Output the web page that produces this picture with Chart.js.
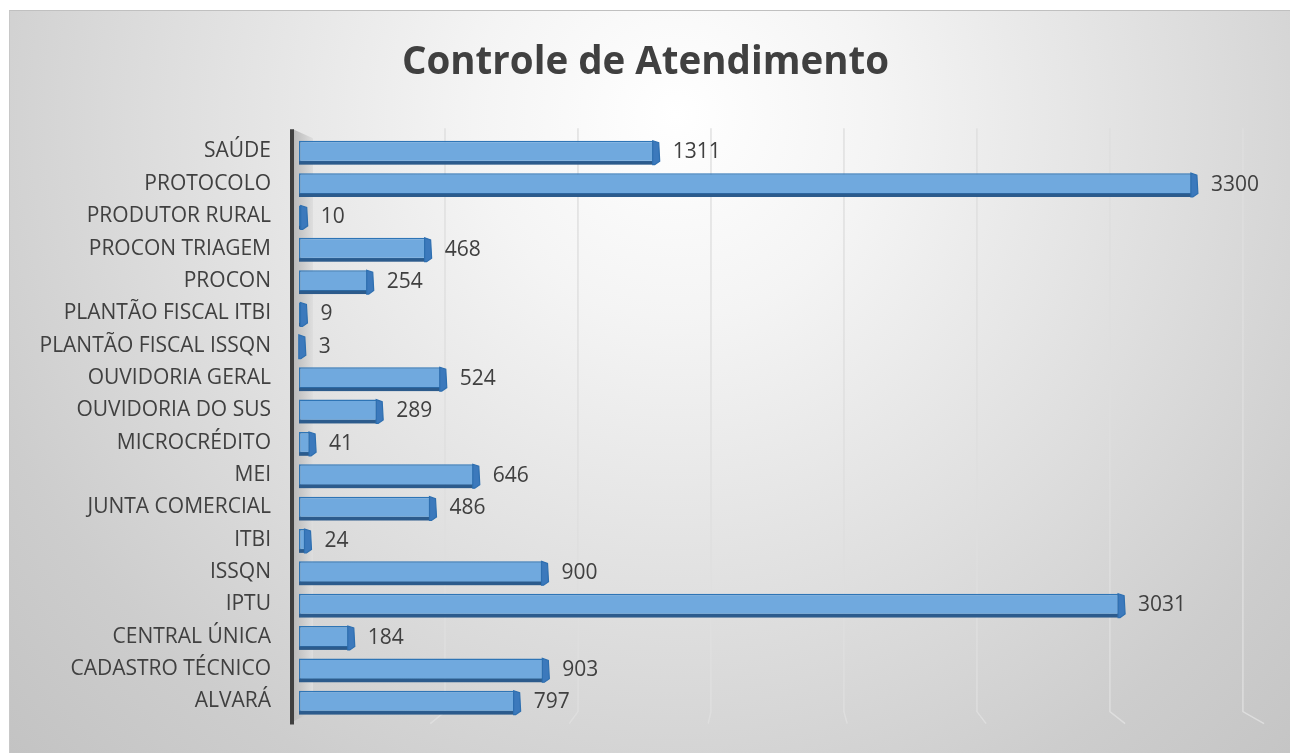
<!DOCTYPE html>
<html>
<head>
<meta charset="utf-8">
<script src="https://cdn.jsdelivr.net/npm/chart.js@4.4.1/dist/chart.umd.min.js"></script>
<style>
  body { margin: 0; background: #fff; }
  #box {
    position: absolute; left: 9px; top: 10px; width: 1281px; height: 743px;
    border-top: 1px solid #c0c0c0; border-left: 1px solid #c8c8c8; box-sizing: border-box;
    background: radial-gradient(circle farthest-corner at 52% 14%, #ffffff 0%, #f4f4f4 22%, #dedede 55%, #cdcdcd 80%, #c3c3c3 100%);
  }
</style>
</head>
<body>
<div id="box"><canvas id="chart"></canvas></div>
<script>
// data, top to bottom as in the picture
const categories = ['SAÚDE', 'PROTOCOLO', 'PRODUTOR RURAL', 'PROCON TRIAGEM', 'PROCON',
  'PLANTÃO FISCAL ITBI', 'PLANTÃO FISCAL ISSQN', 'OUVIDORIA GERAL', 'OUVIDORIA DO SUS',
  'MICROCRÉDITO', 'MEI', 'JUNTA COMERCIAL', 'ITBI', 'ISSQN', 'IPTU', 'CENTRAL ÚNICA',
  'CADASTRO TÉCNICO', 'ALVARÁ'];
const atendimentos = [1311, 3300, 10, 468, 254, 9, 3, 524, 289, 41, 646, 486, 24, 900, 3031, 184, 903, 797];
const axisMax = 3500;
const axisStep = 500;

const FONT = '"Open Sans", "Noto Sans", sans-serif';
const CAP = 6; // width of the fake 3d end cap

// back wall, floor and gridlines (fake 3d)
const backdrop = {
  id: 'backdrop',
  beforeDatasetsDraw(chart) {
    const { ctx, chartArea: a, scales: { x } } = chart;
    const mid = (a.left + a.right) / 2;
    ctx.save();
    ctx.strokeStyle = 'rgba(222,222,222,0.95)';
    ctx.lineWidth = 1.5;
    x.ticks.forEach(t => {
      if (t.value === 0) return;
      const px = a.left + 13 + (x.getPixelForValue(t.value) - a.left) * 0.983;
      ctx.beginPath();
      ctx.moveTo(px, a.top - 7);
      ctx.lineTo(px, a.bottom - 6);
      ctx.lineTo(px + (px - mid) * 0.045, a.bottom + 6);
      ctx.stroke();
    });
    // side wall
    const wl = a.left - 6, wr = a.left + 14;
    const g = ctx.createLinearGradient(wl, 0, wr, 0);
    g.addColorStop(0, '#b9b9b9');
    g.addColorStop(1, '#dedede');
    ctx.fillStyle = g;
    ctx.beginPath();
    ctx.moveTo(wl, a.top - 6);
    ctx.lineTo(wr, a.top + 3);
    ctx.lineTo(wr, a.bottom - 6);
    ctx.lineTo(wl, a.bottom + 4);
    ctx.closePath();
    ctx.fill();
    // axis line
    ctx.strokeStyle = '#404040';
    ctx.lineWidth = 4;
    ctx.beginPath();
    ctx.moveTo(a.left - 7, a.top - 6);
    ctx.lineTo(a.left - 7, a.bottom + 7);
    ctx.stroke();
    ctx.restore();
  },
  afterDatasetsDraw(chart) {
    const { ctx } = chart;
    const meta = chart.getDatasetMeta(0);
    ctx.save();
    meta.data.forEach((el, i) => {
      const top = el.y - el.height / 2;
      const bot = el.y + el.height / 2;
      // bottom face
      ctx.fillStyle = '#2c5b8c';
      ctx.fillRect(el.base, bot - 1, el.x - el.base, 3.5);
      // end cap
      ctx.fillStyle = '#3c79bc';
      ctx.strokeStyle = '#2e6fb0';
      ctx.lineWidth = 1.2;
      ctx.beginPath();
      ctx.moveTo(el.x - 1, top);
      ctx.lineTo(el.x + CAP - 1, top + 2);
      ctx.lineTo(el.x + CAP, bot - 1);
      ctx.lineTo(el.x + 1, bot + 2.5);
      ctx.lineTo(el.x - 1, bot + 2.5);
      ctx.closePath();
      ctx.fill();
      ctx.stroke();
      // value label
      ctx.fillStyle = '#404040';
      ctx.font = '21px ' + FONT;
      ctx.textAlign = 'left';
      ctx.textBaseline = 'middle';
      ctx.fillText(String(atendimentos[i]), el.x + CAP + 13, el.y + 1);
    });
    ctx.restore();
  }
};

new Chart(document.getElementById('chart'), {
  type: 'bar',
  data: {
    labels: categories,
    datasets: [{
      data: atendimentos,
      backgroundColor: '#70a9de',
      borderColor: '#2e75b6',
      borderWidth: 1.5,
      borderSkipped: false,
      categoryPercentage: 1,
      barPercentage: 0.66
    }]
  },
  options: {
    indexAxis: 'y',
    responsive: true,
    maintainAspectRatio: false,
    animation: false,
    layout: { padding: { left: 0, right: 9, top: 0, bottom: 35.4 } },
    plugins: {
      legend: { display: false },
      tooltip: { enabled: false },
      title: {
        display: true,
        text: 'Controle de Atendimento',
        color: '#404040',
        font: { family: FONT, size: 38.5, weight: 'bold', lineHeight: 1.2 },
        padding: { top: 29, bottom: 49.1 }
      }
    },
    scales: {
      x: {
        min: 0,
        max: axisMax,
        ticks: { display: false, stepSize: axisStep },
        grid: { display: false, drawTicks: false },
        border: { display: false }
      },
      y: {
        grid: { display: false, drawTicks: false },
        border: { display: false },
        ticks: { color: '#404040', font: { family: FONT, size: 21 }, padding: 28 },
        afterFit(scale) {
          scale.width = 289;
          scale.paddingTop = 0;
          scale.paddingBottom = 0;
        }
      },
      // empty right-hand axis, only keeps room right of the plot
      yRight: {
        axis: 'y',
        type: 'category',
        position: 'right',
        grid: { display: false, drawTicks: false },
        border: { display: false },
        ticks: { display: false },
        afterFit(scale) { scale.width = 35; }
      }
    }
  },
  plugins: [backdrop]
});
</script>
</body>
</html>
